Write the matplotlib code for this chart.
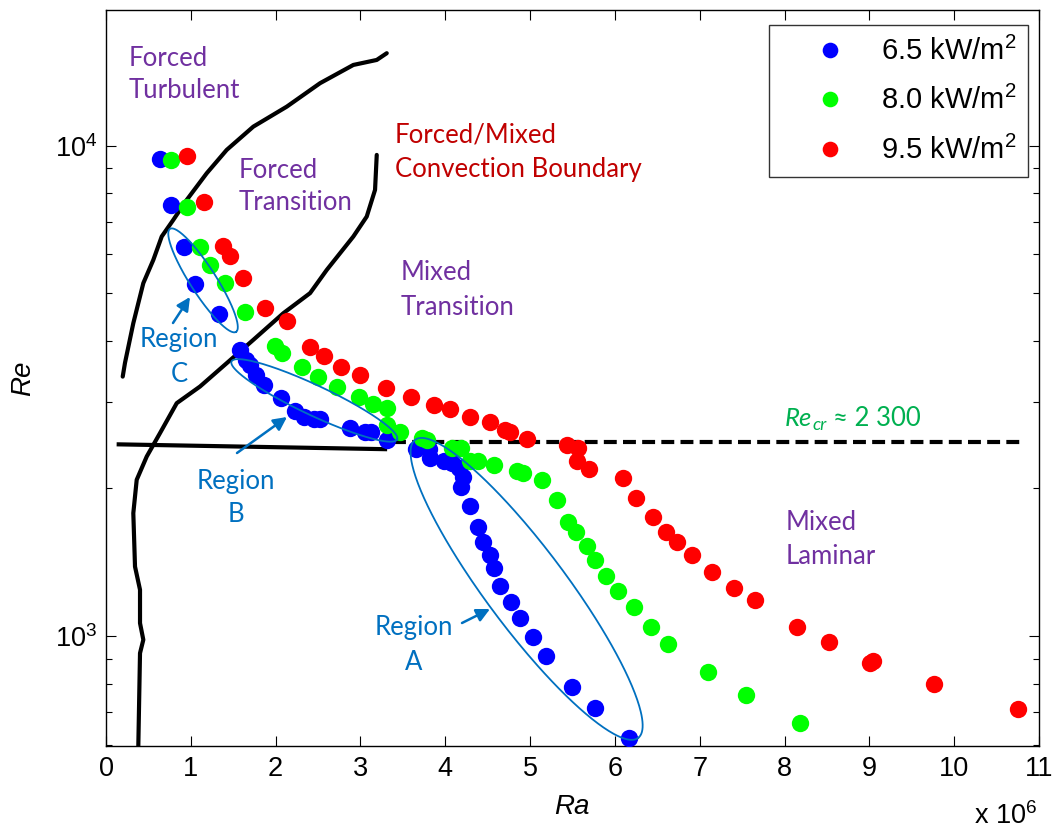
import numpy as np
import matplotlib
matplotlib.use('Agg')
import matplotlib.pyplot as plt
from matplotlib.ticker import NullFormatter, NullLocator, FixedLocator

# ---------------- data (Ra in units of 1e6) ----------------
ra_65 = [0.64, 0.77, 0.92, 1.05, 1.33, 1.58, 1.65, 1.70, 1.77, 1.86,
         2.06, 2.23, 2.33, 2.45, 2.52, 2.88, 3.05, 3.13, 3.31, 3.66,
         3.81, 3.82, 3.98, 4.08, 4.16, 4.21, 4.19, 4.29, 4.38, 4.45,
         4.53, 4.58, 4.65, 4.78, 4.88, 5.03, 5.19, 5.49, 5.77, 6.17]
re_65 = [9400, 7570, 6210, 5220, 4540, 3830, 3660, 3570, 3410, 3250,
         3055, 2880, 2800, 2770, 2770, 2655, 2610, 2610, 2513, 2405,
         2410, 2305, 2270, 2252, 2200, 2115, 2018, 1845, 1668, 1559,
         1460, 1376, 1268, 1171, 1088, 995, 909, 789, 713, 621]

ra_80 = [0.77, 0.95, 1.11, 1.23, 1.40, 1.64, 1.99, 2.08, 2.31, 2.50,
         2.72, 2.98, 3.15, 3.31, 3.31, 3.47, 3.72, 3.78, 4.08,
         4.18, 4.29, 4.39, 4.57, 4.84, 4.92, 5.14, 5.32, 5.45, 5.54,
         5.67, 5.77, 5.90, 6.04, 6.23, 6.42, 6.63, 7.10, 7.54, 8.18]
re_80 = [9350, 7490, 6210, 5710, 5256, 4588, 3906, 3775, 3544, 3381,
         3227, 3079, 2976, 2916, 2696, 2612, 2533, 2513, 2416,
         2416, 2270, 2270, 2235, 2166, 2150, 2083, 1896, 1712, 1633,
         1523, 1430, 1323, 1233, 1149, 1046, 965, 843, 759, 665]

ra_95 = [0.96, 1.15, 1.38, 1.46, 1.61, 1.88, 2.13, 2.41, 2.57, 2.77,
         2.99, 3.30, 3.60, 3.87, 4.06, 4.29, 4.53, 4.71, 4.76, 4.96,
         5.43, 5.57, 5.55, 5.70, 6.10, 6.25, 6.45, 6.60, 6.73, 6.91,
         7.14, 7.40, 7.65, 8.15, 8.53, 9.01, 9.04, 9.76, 10.75]
re_95 = [9540, 7670, 6255, 5958, 5381, 4675, 4398, 3894, 3727, 3544,
         3407, 3211, 3079, 2961, 2903, 2803, 2738, 2633, 2612, 2521,
         2455, 2416, 2270, 2190, 2105, 1916, 1753, 1633, 1552, 1460,
         1348, 1253, 1182, 1046, 975, 880, 891, 797, 710]

series_labels = [r'6.5 kW/m$^2$', r'8.0 kW/m$^2$', r'9.5 kW/m$^2$']
series_colors = ['#0000FF', '#00FF00', '#FF0000']

# regime boundaries
turb_ra = [0.197, 0.224, 0.322, 0.440, 0.558, 0.657, 0.794, 0.952, 1.188,
           1.423, 1.737, 2.131, 2.524, 2.916, 3.192, 3.310]
turb_re = [3381, 3607, 4345, 5243, 5848, 6526, 7058, 7751, 8785,
           9800, 10932, 12006, 13405, 14603, 14950, 15430]

conv_ra = [0.381, 0.401, 0.440, 0.401, 0.401, 0.342, 0.322, 0.362, 0.480,
           0.637, 0.834, 1.108, 1.423, 1.737, 2.091, 2.406, 2.603, 2.916,
           3.074, 3.172, 3.192]
conv_re = [597, 923, 983, 1063, 1243, 1386, 1781, 2083, 2323,
           2594, 2985, 3227, 3601, 4018, 4553, 5003, 5580, 6526,
           7167, 8123, 9572]

lam_ra = [0.15, 3.29]
lam_re = [2460, 2405]

crit_ra = [3.38, 10.84]
crit_re = [2492, 2492]

# region ellipses: major-axis end points (Ra, Re), half minor axis in px
region_c = ((0.755, 6765), (1.533, 4171), 13)
region_b = ((1.480, 3631), (3.432, 2518), 15)
region_a = ((3.644, 2513), (6.274, 620), 40)

x_ticks = list(range(0, 12))

# ---------------- style ----------------
plt.rcParams['font.family'] = ['Liberation Sans', 'DejaVu Sans']
plt.rcParams['mathtext.fontset'] = 'custom'
plt.rcParams['mathtext.rm'] = 'Liberation Sans'
plt.rcParams['mathtext.it'] = 'Liberation Sans:italic'
plt.rcParams['mathtext.bf'] = 'Liberation Sans:bold'

PURPLE = '#7030A0'
DKRED = '#C00000'
BLUE_T = '#0070C0'
GREEN_T = '#00B050'
ANN_FONT = ['Lato', 'DejaVu Sans']
ANN_SIZE = 18.5

W, H = 1053, 831
fig = plt.figure(figsize=(W / 100, H / 100), dpi=100)
L, R, T, B = 106, 1039, 10, 746
ax = fig.add_axes([L / W, 1 - B / H, (R - L) / W, (B - T) / H])

ax.set_yscale('log')
ax.set_xlim(0, 11)
ax.set_ylim(597, 18900)
ax.xaxis.set_major_locator(FixedLocator(x_ticks))
ax.xaxis.set_minor_locator(NullLocator())
ax.yaxis.set_minor_formatter(NullFormatter())
ax.tick_params(which='both', direction='in', top=True, right=True, width=0.8)
ax.tick_params(which='major', length=7, labelsize=19.5)
ax.tick_params(which='minor', length=4)
ax.tick_params(axis='x', pad=7)
ax.tick_params(axis='y', pad=6)
for s in ax.spines.values():
    s.set_linewidth(1.0)

# boundaries
lw_b = 3.0
ax.plot(turb_ra, turb_re, color='black', lw=lw_b, solid_capstyle='round', zorder=2)
ax.plot(conv_ra, conv_re, color='black', lw=lw_b, solid_capstyle='round', zorder=2)
ax.plot(lam_ra, lam_re, color='black', lw=lw_b, zorder=2)
crit_line, = ax.plot(crit_ra, crit_re, color='black', lw=lw_b, zorder=2)
crit_line.set_dashes([3.1, 1.5])

# data points
for ra, re, c, lab in zip([ra_65, ra_80, ra_95], [re_65, re_80, re_95],
                          series_colors, series_labels):
    ax.plot(ra, re, linestyle='none', marker='o', ms=12.5, mfc=c, mec=c,
            mew=0, label=lab, zorder=3)


def draw_ellipse(p1, p2, half_minor):
    d1 = ax.transData.transform(p1)
    d2 = ax.transData.transform(p2)
    c = (d1 + d2) / 2
    v = d2 - d1
    a = np.hypot(*v) / 2
    u = v / (2 * a)
    n = np.array([-u[1], u[0]])
    t = np.linspace(0, 2 * np.pi, 300)
    pts = c + np.outer(a * np.cos(t), u) + np.outer(half_minor * np.sin(t), n)
    dat = ax.transData.inverted().transform(pts)
    ax.plot(dat[:, 0], dat[:, 1], color=BLUE_T, lw=1.3, zorder=4)


for reg in (region_c, region_b, region_a):
    draw_ellipse(*reg)


def fx(px):
    return (px - L) / (R - L)


def fy(py):
    return (B - py) / (B - T)


def label2(px, py1, py2, l1, l2, color, ha='left'):
    for py, s in ((py1, l1), (py2, l2)):
        ax.text(fx(px), fy(py), s, transform=ax.transAxes, color=color,
                fontsize=ANN_SIZE, family=ANN_FONT, ha=ha, va='center', zorder=5)


label2(129, 58, 91, 'Forced', 'Turbulent', PURPLE)
label2(239, 170, 203, 'Forced', 'Transition', PURPLE)
label2(395, 135, 170, 'Forced/Mixed', 'Convection Boundary', DKRED)
label2(401, 273, 307, 'Mixed', 'Transition', PURPLE)
label2(786, 523, 557, 'Mixed', 'Laminar', PURPLE)
label2(179, 339, 374, 'Region', 'C', BLUE_T, ha='center')
label2(236, 482, 515, 'Region', 'B', BLUE_T, ha='center')
label2(414, 628, 662, 'Region', 'A', BLUE_T, ha='center')

# Re_cr label
t1 = ax.text(fx(785), fy(419), 'Re', transform=ax.transAxes, color=GREEN_T,
             fontsize=ANN_SIZE, family=ANN_FONT, style='italic', ha='left',
             va='center', zorder=5)
t2 = ax.annotate('cr', xy=(1, 0.5), xycoords=t1, xytext=(0.3, -4),
                 textcoords='offset points', color=GREEN_T, fontsize=13,
                 family=ANN_FONT, style='italic', ha='left', va='center')
ax.annotate('\u2248 2 300', xy=(1, 0.5), xycoords=t1, xytext=(15, 0),
            textcoords='offset points', color=GREEN_T, fontsize=ANN_SIZE,
            family=ANN_FONT, ha='left', va='center')

# arrows
arrows = [((173, 323), (190, 297)), ((237, 453), (287, 417)), ((462, 623), (490, 609))]
for (tx, ty), (hx, hy) in arrows:
    ax.annotate('', xy=(fx(hx), fy(hy)), xycoords='axes fraction',
                xytext=(fx(tx), fy(ty)), textcoords='axes fraction',
                arrowprops=dict(arrowstyle='-|>', color=BLUE_T, lw=1.8,
                                mutation_scale=20, shrinkA=0, shrinkB=0),
                zorder=5)

# axis labels
fig.text(572 / W, 1 - 807 / H, 'Ra', style='italic', fontsize=20,
         ha='center', va='center')
fig.text(23 / W, 1 - 378 / H, 'Re', style='italic', fontsize=20,
         rotation=90, ha='center', va='center')
fig.text(1037 / W, 1 - 830 / H, r'x 10$^{6}$', fontsize=19.5, ha='right',
         va='bottom')

# legend
leg = ax.legend(loc='upper right', bbox_to_anchor=(fx(1028), fy(25)),
                bbox_transform=ax.transAxes, borderaxespad=0, frameon=True,
                fancybox=False, fontsize=21, markerscale=0.9,
                handlelength=3.38, handletextpad=0.05, borderpad=0.4,
                labelspacing=0.7)
leg.get_frame().set_edgecolor('black')
leg.get_frame().set_linewidth(1.0)

fig.savefig('out.png', dpi=100)
